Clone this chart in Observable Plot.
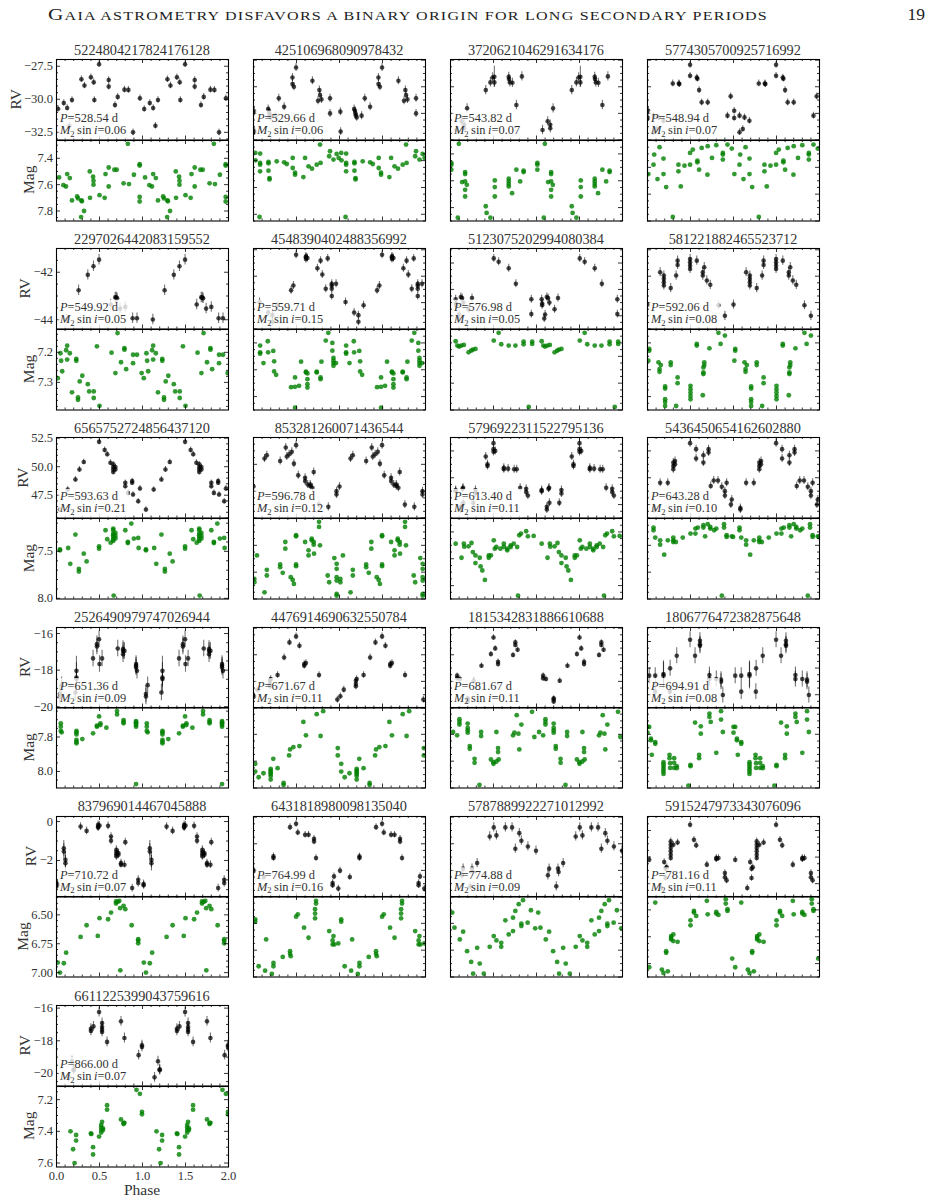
<!DOCTYPE html>
<html><head><meta charset="utf-8">
<script src="https://cdn.jsdelivr.net/npm/d3@7"></script>
<script src="https://cdn.jsdelivr.net/npm/@observablehq/plot@0.6"></script>
<style>
html,body{margin:0;padding:0;background:#fff;}
#page{position:relative;width:929px;height:1202px;overflow:hidden;font-family:"Liberation Serif","Times New Roman",serif;}
#page svg{position:absolute;overflow:visible;}
</style></head><body><div id="page"></div>
<script>
// ---------------- data ----------------
const ids = ["5224804217824176128","425106968090978432","3720621046291634176","5774305700925716992",
 "2297026442083159552","4548390402488356992","5123075202994080384","581221882465523712",
 "6565752724856437120","853281260071436544","5796922311522795136","5436450654162602880",
 "2526490979747026944","4476914690632550784","1815342831886610688","1806776472382875648",
 "837969014467045888","6431818980098135040","5787889922271012992","5915247973343076096",
 "6611225399043759616"];
const periods = [528.54,529.66,543.82,548.94,549.92,559.71,576.98,592.06,593.63,596.78,613.40,643.28,651.36,671.67,681.67,694.91,710.72,764.99,774.88,781.16,866.00];
const msini = [0.06,0.06,0.07,0.07,0.05,0.15,0.05,0.08,0.21,0.12,0.11,0.10,0.09,0.11,0.11,0.08,0.07,0.16,0.09,0.11,0.07];
const rvDomains = [[-33.08,-26.99],[12,18.05],[-20,-13.95],[40,46.05],[-44.39,-41.0],[-8,-1.9],[25,31.1],[-2,4.1],
 [45.5,52.56],[18,24.0],[-35,-29.0],[55,61.0],[-20.07,-15.67],[-62,-55.95],[30,36.05],[-15,-8.95],
 [-3.88,0.26],[-40,-33.95],[8,14.05],[-25,-18.95],[-20.77,-15.84]];
const magDomains = [[7.265,7.876],[7.25,7.85],[7.3,7.9],[7.0,7.6],[7.124,7.392],[7.1,7.7],[6.6,7.2],[7.3,7.9],
 [7.15,8.007],[7.4,8.0],[6.9,7.5],[7.2,7.8],[7.629,8.096],[7.6,8.2],[7.0,7.6],[6.8,7.4],
 [6.341,7.038],[7.4,8.0],[6.0,6.6],[7.5,8.1],[7.117,7.625]];
const rvSteps = [2.5,2,2,2,2,2,2,2,2.5,2,2,2,2,2,2,2,2,2,2,2,2];
const rvDecimals = [1,0,0,0,0,0,0,0,1,0,0,0,0,0,0,0,0,0,0,0,0];
const magSteps = [0.2,0.2,0.2,0.2,0.1,0.2,0.2,0.2,0.5,0.2,0.2,0.2,0.2,0.2,0.2,0.2,0.25,0.2,0.2,0.2,0.2];
const magDecimals = [1,1,1,1,1,1,1,1,1,1,1,1,1,1,1,1,2,1,1,1,1];
const rvErr = [0.25,0.3,0.35,0.25,0.22,0.3,0.3,0.35,0.25,0.3,0.3,0.3,0.45,0.25,0.2,0.6,0.2,0.25,0.35,0.25,0.3];
const phaseTicks = [0.0,0.5,1.0,1.5,2.0];

// [phase, RV, (error)] ; [phase, mag]  -- phases in one cycle, plotted twice
const rv1 = [[0.02,-30.73],[0.085,-30.28],[0.124,-30.66],[0.15,-32.0],[0.18,-30.05],[0.29,-28.48],[0.325,-28.96],[0.40,-28.33],[0.433,-28.71],[0.44,-30.05],[0.495,-27.35],[0.607,-28.54],[0.607,-29.04],[0.68,-30.43],[0.712,-29.82],[0.79,-29.27],[0.836,-29.29],[0.89,-32.5],[0.97,-29.92]];
const mag1 = [[0.03,7.545],[0.08,7.604],[0.11,7.614],[0.124,7.52],[0.155,7.55],[0.18,7.72],[0.24,7.69],[0.25,7.705],[0.286,7.846],[0.29,7.72],[0.295,7.726],[0.32,7.80],[0.387,7.50],[0.39,7.70],[0.425,7.54],[0.43,7.57],[0.43,7.60],[0.50,7.68],[0.56,7.70],[0.57,7.52],[0.607,7.47],[0.607,7.614],[0.673,7.487],[0.70,7.487],[0.78,7.59],[0.83,7.29],[0.843,7.596],[0.90,7.525],[0.967,7.445],[0.967,7.455],[0.967,7.693],[0.967,7.728]];
const rv2 = [[0.01,14.13],[0.013,12.63],[0.17,14.33],[0.18,14.2],[0.185,14.0],[0.19,13.85],[0.2,13.7],[0.257,13.83],[0.294,15.13],[0.356,14.5],[0.453,16.7],[0.453,16.2],[0.47,16.0],[0.495,17.45],[0.685,16.45],[0.75,14.95],[0.766,15.75],[0.774,15.38],[0.79,15.05],[0.89,15.13],[0.89,14.0]];
const mag2 = [[0.02,7.3425],[0.023,7.3975],[0.077,7.3475],[0.077,7.4175],[0.077,7.43],[0.077,7.48],[0.174,7.41],[0.174,7.42],[0.174,7.475],[0.186,7.53],[0.186,7.54],[0.27,7.405],[0.356,7.4125],[0.387,7.425],[0.456,7.38],[0.456,7.455],[0.483,7.49],[0.483,7.505],[0.58,7.5225],[0.6,7.38],[0.64,7.4425],[0.68,7.46],[0.735,7.43],[0.774,7.28],[0.78,7.4175],[0.88,7.3675],[0.89,7.33],[0.93,7.3925],[0.967,7.35],[0.99,7.38],[0.07,7.82]];
const rv3 = [[0.07,-19.25],[0.13,-18.6],[0.16,-18.85],[0.16,-19.12],[0.193,-17.62],[0.41,-16.25],[0.464,-15.67],[0.49,-15.3],[0.51,-15.25,0.8],[0.51,-15.67],[0.677,-15.25],[0.68,-15.42],[0.69,-15.67],[0.72,-15.7],[0.766,-17.37],[0.83,-15.22]];
const mag3 = [[0.01,7.4675],[0.01,7.48],[0.01,7.5175],[0.097,7.325],[0.135,7.61],[0.17,7.535],[0.17,7.55],[0.17,7.605],[0.17,7.6675],[0.17,7.7175],[0.19,7.63],[0.085,7.875],[0.41,7.79],[0.42,7.84],[0.464,7.875],[0.515,7.5975],[0.515,7.6475],[0.515,7.7175],[0.677,7.585],[0.677,7.605],[0.677,7.625],[0.677,7.6425],[0.716,7.6925],[0.766,7.5175],[0.81,7.605],[0.85,7.525],[0.85,7.535]];
const rv4 = [[0.008,42.2],[0.008,41.65],[0.07,41.83],[0.07,40.58],[0.108,40.83],[0.128,41.7],[0.185,41.45],[0.294,44.25],[0.364,44.25],[0.37,44.2],[0.495,44.83],[0.495,45.65],[0.573,44.7],[0.58,44.6],[0.6,43.75],[0.63,42.83],[0.7,42.83],[0.93,41.83],[0.967,43.28]];
const mag4 = [[0.01,7.25],[0.07,7.18],[0.078,7.105],[0.116,7.2875],[0.14,7.05],[0.186,7.25],[0.186,7.135],[0.217,7.3475],[0.294,7.57],[0.36,7.18],[0.36,7.23],[0.387,7.3425],[0.43,7.1875],[0.495,7.0925],[0.495,7.18],[0.527,7.0675],[0.58,7.15],[0.58,7.1625],[0.6,7.2175],[0.63,7.055],[0.697,7.255],[0.7,7.0425],[0.75,7.13],[0.8,7.035],[0.876,7.0925],[0.876,7.105],[0.876,7.1425],[0.93,7.03],[0.98,7.06]];
const rv5 = [[0.12,-43.99],[0.257,-42.76],[0.364,-42.11],[0.43,-41.75],[0.495,-41.47],[0.63,-43.36],[0.683,-43.06],[0.695,-43.06],[0.705,-43.1],[0.74,-43.53],[0.8,-43.46],[0.885,-43.94],[0.936,-43.94]];
const mag5 = [[0.015,7.286],[0.046,7.203],[0.054,7.228],[0.066,7.263],[0.112,7.193],[0.124,7.178],[0.124,7.224],[0.155,7.203],[0.18,7.333],[0.23,7.222],[0.23,7.228],[0.25,7.35],[0.25,7.358],[0.27,7.297],[0.30,7.278],[0.364,7.306],[0.38,7.33],[0.433,7.33],[0.433,7.352],[0.47,7.18],[0.5,7.378],[0.64,7.201],[0.685,7.269],[0.71,7.136],[0.75,7.233],[0.79,7.186],[0.79,7.191],[0.81,7.256],[0.89,7.208],[0.89,7.236],[0.936,7.208],[0.99,7.269]];
const rv6 = [[0.07,-5.95],[0.17,-6.75],[0.22,-6.95],[0.22,-7.45],[0.28,-6.2],[0.437,-5.07],[0.464,-4.7],[0.495,-2.37],[0.61,-2.5],[0.61,-2.57],[0.61,-2.7],[0.627,-2.62],[0.743,-3.4],[0.78,-2.82],[0.8,-3.87],[0.84,-4.95],[0.863,-2.65],[0.91,-4.95],[0.91,-4.7],[0.91,-4.57],[0.91,-5.5],[0.96,-4.57]];
const mag6 = [[0.077,7.22],[0.077,7.27],[0.077,7.28],[0.116,7.35],[0.166,7.1875],[0.17,7.27],[0.23,7.26],[0.24,7.3375],[0.24,7.4125],[0.263,7.4375],[0.437,7.53],[0.483,7.4575],[0.483,7.5275],[0.483,7.6825],[0.53,7.52],[0.553,7.34],[0.61,7.42],[0.61,7.415],[0.627,7.4275],[0.627,7.47],[0.627,7.5075],[0.627,7.5325],[0.735,7.415],[0.735,7.42],[0.78,7.4575],[0.78,7.47],[0.79,7.34],[0.84,7.1825],[0.87,7.125],[0.917,7.2],[0.917,7.2575],[0.93,7.3125],[0.93,7.3325],[0.93,7.35],[0.93,7.37],[0.96,7.35]];
const rv7 = [[0.06,27.25],[0.066,26.93],[0.066,26.8],[0.09,25.8],[0.1,26.1],[0.12,27.43],[0.135,27.35],[0.15,27.0],[0.21,26.5],[0.25,27.35],[0.503,30.35],[0.56,30.1],[0.677,29.6],[0.76,28.43],[0.94,27.25],[0.94,26.13]];
const mag7 = [[0.06,6.6875],[0.08,6.72],[0.1,6.7275],[0.125,6.72],[0.155,6.715],[0.21,6.77],[0.24,6.7575],[0.26,6.75],[0.29,6.745],[0.503,6.6825],[0.56,6.625],[0.59,6.71],[0.677,6.72],[0.755,6.72],[0.85,6.69],[0.85,6.71],[0.91,7.1775],[0.95,6.69],[0.95,6.7075]];
const rv8 = [[0.0,-0.15],[0.147,2.3],[0.19,2.05],[0.19,1.8],[0.19,1.55],[0.19,1.3],[0.27,1.1],[0.333,2.05],[0.35,2.85],[0.35,3.18],[0.495,3.3],[0.495,3.05],[0.495,2.8],[0.495,2.55],[0.573,3.18],[0.643,2.3],[0.643,2.05],[0.66,2.68],[0.69,1.68],[0.73,1.35],[0.825,-0.2],[0.9,-1.0]];
const mag8 = [[0.01,7.5325],[0.02,7.445],[0.02,7.4575],[0.128,7.545],[0.14,7.595],[0.14,7.615],[0.155,7.565],[0.205,7.725],[0.205,7.74],[0.205,7.82],[0.205,7.84],[0.205,7.87],[0.27,7.545],[0.27,7.565],[0.333,7.87],[0.35,7.6575],[0.35,7.7],[0.5,7.72],[0.5,7.745],[0.5,7.77],[0.5,7.795],[0.5,7.82],[0.573,7.4075],[0.573,7.42],[0.643,7.79],[0.65,7.5825],[0.65,7.62],[0.65,7.6325],[0.66,7.545],[0.66,7.565],[0.72,7.44],[0.825,7.325],[0.85,7.4075],[0.9,7.345]];
const rv9 = [[0.04,46.24],[0.13,48.0],[0.22,48.88],[0.267,49.76],[0.317,50.41],[0.495,52.18],[0.56,51.47],[0.59,51.09],[0.627,50.35],[0.66,50.21],[0.66,49.97],[0.66,49.76],[0.66,49.53],[0.685,49.97],[0.685,49.76],[0.8,48.59],[0.8,48.29],[0.83,47.7],[0.88,48.74],[0.88,48.59],[0.89,47.56],[0.95,46.97],[0.97,48.09]];
const mag9 = [[0.04,7.479],[0.04,7.489],[0.136,7.464],[0.16,7.632],[0.22,7.321],[0.26,7.686],[0.26,7.714],[0.317,7.525],[0.35,7.607],[0.495,7.446],[0.495,7.471],[0.57,7.275],[0.59,7.371],[0.63,7.407],[0.66,7.257],[0.66,7.275],[0.66,7.311],[0.66,7.329],[0.66,7.346],[0.66,7.371],[0.66,7.389],[0.685,7.304],[0.685,7.336],[0.685,7.364],[0.665,7.971],[0.8,7.275],[0.83,7.4],[0.83,7.411],[0.87,7.204],[0.9,7.364],[0.95,7.357],[0.955,7.464]];
const rv10 = [[0.0,20.35],[0.128,22.43],[0.155,22.68],[0.31,22.25],[0.375,23.25],[0.387,22.58],[0.414,22.75],[0.445,22.93],[0.47,22.05],[0.495,23.43],[0.52,21.18],[0.6,21.0],[0.6,20.75],[0.63,20.5],[0.66,20.5],[0.66,20.38],[0.685,20.25],[0.7,21.43],[0.76,19.0],[0.87,18.83],[0.965,19.75],[0.965,20.0]];
const mag10 = [[0.01,7.85],[0.01,7.875],[0.04,7.675],[0.128,7.95],[0.155,7.7825],[0.155,7.825],[0.31,7.7425],[0.31,7.7625],[0.34,7.805],[0.37,7.575],[0.37,7.625],[0.433,7.8375],[0.456,7.8575],[0.47,7.8875],[0.495,7.525],[0.495,7.5325],[0.495,7.7425],[0.495,7.755],[0.6,7.575],[0.64,7.6375],[0.64,7.675],[0.677,7.55],[0.677,7.5625],[0.7,7.575],[0.7,7.595],[0.704,7.6625],[0.762,7.425],[0.762,7.4625],[0.773,7.6],[0.863,7.825],[0.88,7.875],[0.94,7.695],[0.967,7.7375],[0.967,7.775],[0.967,7.8375],[0.967,7.8625],[0.967,7.9625],[0.967,7.975]];
const rv11 = [[0.06,-32.92],[0.06,-33.0],[0.12,-34.37],[0.12,-34.17],[0.14,-32.82],[0.147,-32.75],[0.15,-33.87],[0.265,-33.87],[0.29,-32.92],[0.29,-33.17],[0.41,-30.42],[0.43,-31.0],[0.43,-31.12],[0.5,-29.42],[0.5,-29.87],[0.5,-30.07],[0.52,-30.0],[0.62,-31.25],[0.62,-31.37],[0.67,-31.32],[0.74,-31.37],[0.77,-31.37],[0.81,-32.75],[0.88,-32.82],[0.88,-33.07],[0.9,-33.32]];
const mag11 = [[0.06,7.0875],[0.128,7.1925],[0.155,7.0875],[0.16,7.11],[0.21,7.1075],[0.244,7.0825],[0.26,7.15],[0.29,7.175],[0.29,7.2325],[0.34,7.1925],[0.35,7.2575],[0.37,7.2875],[0.4,7.3575],[0.445,7.175],[0.445,7.1925],[0.47,7.175],[0.503,7.0625],[0.515,7.125],[0.533,7.1125],[0.58,7.125],[0.62,7.0875],[0.62,7.1125],[0.66,7.125],[0.66,7.1375],[0.7,7.1],[0.7,7.1125],[0.735,7.0875],[0.775,7.1125],[0.8,7.025],[0.82,7.0125],[0.88,6.995],[0.9,7.0325],[0.967,7.03],[0.785,7.475]];
const rv12 = [[0.08,55.75],[0.08,55.63],[0.147,57.63],[0.236,57.63],[0.3,59.13],[0.3,58.88],[0.3,58.63],[0.32,59.25],[0.32,59.0],[0.495,60.58],[0.565,60.13],[0.565,59.43],[0.65,59.68],[0.65,59.13],[0.71,60.13],[0.71,59.88],[0.735,57.38],[0.77,57.8],[0.82,57.8],[0.864,57.33],[0.9,57.0],[0.9,56.68],[0.92,57.63],[0.97,56.0],[0.98,56.38]];
const mag12 = [[0.07,7.2675],[0.07,7.2875],[0.09,7.3425],[0.147,7.3625],[0.147,7.395],[0.194,7.47],[0.236,7.3625],[0.3,7.3425],[0.3,7.3625],[0.3,7.375],[0.33,7.375],[0.41,7.3425],[0.5,7.3125],[0.557,7.3125],[0.557,7.275],[0.585,7.2675],[0.65,7.25],[0.65,7.2675],[0.67,7.3325],[0.7,7.2425],[0.73,7.2625],[0.73,7.275],[0.775,7.2875],[0.8,7.275],[0.864,7.775],[0.89,7.2425],[0.89,7.2675],[0.92,7.325],[0.92,7.3375],[0.98,7.3325],[0.995,7.3375]];
const rv13 = [[0.04,-19.31],[0.04,-19.44],[0.06,-18.82],[0.22,-19.22],[0.232,-18.04,0.8],[0.232,-18.4,0.8],[0.232,-18.49],[0.425,-17.36],[0.47,-16.58],[0.47,-16.71],[0.495,-16.31],[0.5,-17.67],[0.53,-17.36],[0.712,-16.82],[0.774,-16.85],[0.774,-16.95],[0.774,-17.13],[0.79,-16.95],[0.925,-17.67],[0.925,-17.76],[0.925,-17.85],[0.936,-18.04]];
const mag13 = [[0.05,7.721],[0.05,7.74],[0.05,7.765],[0.06,7.773],[0.232,7.765],[0.232,7.773],[0.232,7.785],[0.232,7.817],[0.232,7.827],[0.232,7.837],[0.3,7.812],[0.425,7.779],[0.47,7.735],[0.47,7.74],[0.495,7.681],[0.51,7.721],[0.51,7.731],[0.58,7.746],[0.704,7.65],[0.704,7.669],[0.78,7.702],[0.78,7.712],[0.78,7.721],[0.925,7.708],[0.925,7.715],[0.925,7.721],[0.925,7.731],[0.925,7.74],[0.925,8.073]];
const rv14 = [[0.01,-61.12],[0.05,-60.62],[0.19,-59.95],[0.19,-60.2],[0.19,-60.37],[0.2,-59.82],[0.28,-59.52],[0.356,-58.2],[0.418,-57.07],[0.495,-56.62],[0.534,-57.32],[0.59,-58.7],[0.59,-58.82],[0.61,-58.62],[0.762,-59.52],[0.975,-61.37]];
const mag14 = [[0.02,8.02],[0.02,8.0775],[0.06,8.12],[0.116,8.09],[0.2,8.0575],[0.2,8.07],[0.2,8.0825],[0.2,8.095],[0.2,8.11],[0.2,8.1375],[0.23,7.9825],[0.28,8.0525],[0.35,8.1625],[0.35,8.1775],[0.414,7.9575],[0.425,7.9125],[0.464,7.895],[0.534,7.8875],[0.58,7.7075],[0.61,7.8075],[0.735,7.65],[0.78,7.8125],[0.81,7.6275],[0.98,7.9025],[0.98,7.9575]];
const rv15 = [[0.077,32.43],[0.077,32.23],[0.11,32.18],[0.2,30.73],[0.2,30.63],[0.2,30.48],[0.27,32.05],[0.36,33.18],[0.47,34.05],[0.5,35.3],[0.52,34.48],[0.553,33.48],[0.553,33.3],[0.727,33.98],[0.754,34.93],[0.754,34.73],[0.78,34.38]];
const mag15 = [[0.03,7.1825],[0.077,7.2075],[0.104,7.0875],[0.104,7.1075],[0.104,7.1275],[0.2,7.12],[0.2,7.1525],[0.2,7.17],[0.2,7.1875],[0.224,7.2875],[0.224,7.3075],[0.28,7.3825],[0.28,7.4125],[0.337,7.5775],[0.356,7.1825],[0.356,7.2125],[0.47,7.3875],[0.5,7.4075],[0.5,7.42],[0.534,7.1825],[0.553,7.3025],[0.553,7.3325],[0.534,7.4025],[0.56,7.3875],[0.727,7.2075],[0.743,7.1875],[0.77,7.0575],[0.79,7.195],[0.8,7.3125],[0.824,7.1275],[0.948,7.0325],[0.975,7.22]];
const rv16 = [[0.02,-12.57],[0.09,-12.57],[0.09,-13.77],[0.186,-12.45,1.0],[0.186,-12.57,1.0],[0.26,-13.77],[0.263,-12.02],[0.34,-11.07],[0.495,-9.87],[0.553,-11.07],[0.61,-9.95],[0.61,-10.2],[0.61,-10.32],[0.72,-12.52],[0.72,-12.82],[0.8,-12.82],[0.855,-12.87],[0.855,-13.02],[0.876,-14.02]];
const mag16 = [[0.0,6.945],[0.0,6.9875],[0.02,6.945],[0.04,7.0325],[0.04,7.045],[0.05,7.1525],[0.09,7.0575],[0.09,7.07],[0.186,7.2075],[0.186,7.225],[0.186,7.2425],[0.186,7.26],[0.186,7.2775],[0.186,7.295],[0.256,7.1525],[0.256,7.1775],[0.263,7.215],[0.263,7.25],[0.31,7.1775],[0.31,7.2125],[0.31,7.25],[0.34,7.2375],[0.34,7.2525],[0.476,7.3825],[0.5,7.2275],[0.5,7.2375],[0.553,6.9125],[0.6,7.1525],[0.6,7.1775],[0.62,6.94],[0.62,6.995],[0.72,6.845],[0.72,6.87],[0.735,6.9075],[0.8,7.1375],[0.855,6.8275],[0.855,6.89],[0.876,6.9825]];
const rv17 = [[0.013,-3.21],[0.013,-3.28],[0.085,-1.37,0.4],[0.085,-1.54,0.4],[0.104,-1.97,0.4],[0.104,-2.14,0.4],[0.28,-0.26],[0.35,-0.48],[0.484,-0.17],[0.484,-0.26],[0.484,-0.31],[0.5,-0.2],[0.6,-0.22],[0.634,-0.77],[0.634,-0.99],[0.696,-1.45],[0.696,-1.57],[0.696,-1.68],[0.696,-1.79],[0.72,-1.62],[0.72,-1.71],[0.75,-2.14],[0.75,-2.22],[0.79,-2.22],[0.8,-1.06],[0.88,-3.42],[0.95,-2.99],[0.95,-3.16]];
const mag17 = [[0.015,6.913],[0.04,7.0],[0.085,6.919],[0.112,6.827],[0.28,6.691],[0.35,6.59],[0.48,6.682],[0.5,6.529],[0.6,6.538],[0.634,6.48],[0.692,6.384],[0.692,6.402],[0.712,6.387],[0.73,6.379],[0.74,6.442],[0.742,6.98],[0.78,6.422],[0.8,6.451],[0.874,6.59],[0.95,6.711],[0.95,6.725],[0.95,6.746]];
const rv18 = [[0.006,-38.02],[0.12,-38.5],[0.232,-36.95],[0.232,-37.07],[0.425,-34.75],[0.495,-34.5],[0.515,-35.15],[0.6,-35.32],[0.64,-35.32],[0.704,-35.62],[0.704,-35.82],[0.727,-37.07],[0.92,-38.95],[0.92,-39.12],[0.936,-38.45],[0.986,-39.37]];
const mag18 = [[0.02,7.57],[0.02,7.5875],[0.06,7.92],[0.135,7.9525],[0.147,7.72],[0.213,7.9775],[0.232,7.895],[0.232,7.92],[0.34,7.85],[0.425,7.8075],[0.425,7.8275],[0.433,7.845],[0.495,7.55],[0.515,7.5325],[0.588,7.6325],[0.64,7.7075],[0.716,7.495],[0.716,7.5275],[0.716,7.5625],[0.727,7.4325],[0.727,7.4525],[0.88,7.6575],[0.92,7.7275],[0.92,7.7575],[0.93,7.695],[0.94,7.7575],[0.986,7.75]];
const rv19 = [[0.133,9.63],[0.147,10.13],[0.23,8.8],[0.25,10.13],[0.257,9.88],[0.31,10.55],[0.456,12.55],[0.503,13.23],[0.534,12.63],[0.638,13.23],[0.716,13.23],[0.754,11.63],[0.8,12.8],[0.824,12.23],[0.9,11.8],[0.994,11.48]];
const mag19 = [[0.02,6.12],[0.046,6.2325],[0.108,6.32],[0.147,6.2625],[0.193,6.4075],[0.24,6.4875],[0.263,6.575],[0.31,6.3825],[0.34,6.5],[0.387,6.575],[0.456,6.375],[0.503,6.295],[0.534,6.3275],[0.59,6.345],[0.59,6.375],[0.638,6.1775],[0.677,6.2825],[0.727,6.1575],[0.727,6.2575],[0.754,6.1075],[0.793,6.0575],[0.824,6.22],[0.824,6.2025],[0.843,6.0275],[0.897,6.195],[0.935,6.1025],[0.985,6.2375]];
const rv20 = [[0.02,-22.2],[0.16,-24.32],[0.194,-22.37],[0.21,-22.87],[0.21,-23.57],[0.224,-22.77],[0.27,-20.82],[0.27,-21.07],[0.27,-21.32],[0.27,-21.57],[0.27,-21.82],[0.27,-22.07],[0.3,-21.07],[0.35,-20.9],[0.495,-19.57],[0.54,-20.7],[0.566,-21.12],[0.69,-22.57],[0.8,-22.07],[0.8,-22.15],[0.825,-22.07],[0.9,-23.2],[0.9,-23.52],[0.92,-23.75]];
const mag20 = [[0.02,8.0275],[0.09,7.545],[0.167,8.045],[0.186,8.07],[0.217,7.9075],[0.217,7.92],[0.236,8.0575],[0.275,7.82],[0.275,7.8075],[0.275,7.795],[0.3,7.7825],[0.3,7.8325],[0.35,7.8375],[0.5,7.6775],[0.5,7.715],[0.54,7.6075],[0.54,7.62],[0.566,7.645],[0.69,7.5325],[0.7,7.6325],[0.8,7.615],[0.8,7.6275],[0.825,7.6375],[0.91,7.52],[0.91,7.5525],[0.93,7.595],[0.93,7.6075],[0.985,7.9625]];
const rv21 = [[0.14,-20.24],[0.18,-19.25],[0.2,-19.74],[0.2,-19.8],[0.40,-17.4],[0.40,-17.26],[0.43,-17.12],[0.495,-16.24],[0.53,-16.91],[0.53,-17.16],[0.53,-17.32],[0.53,-17.46],[0.588,-18.07],[0.75,-16.81],[0.79,-17.83],[0.955,-18.88],[0.994,-18.27],[0.994,-18.38]];
const mag21 = [[0.163,7.4],[0.193,7.513],[0.21,7.6],[0.228,7.423],[0.228,7.458],[0.40,7.413],[0.405,7.417],[0.425,7.5],[0.425,7.546],[0.495,7.433],[0.52,7.408],[0.52,7.392],[0.52,7.375],[0.52,7.36],[0.53,7.34],[0.54,7.381],[0.54,7.392],[0.588,7.235],[0.588,7.263],[0.75,7.325],[0.78,7.346],[0.78,7.354],[0.79,7.346],[0.93,7.138],[0.97,7.163],[0.994,7.277],[0.994,7.292]];

const rvSets = [rv1,rv2,rv3,rv4,rv5,rv6,rv7,rv8,rv9,rv10,rv11,rv12,rv13,rv14,rv15,rv16,rv17,rv18,rv19,rv20,rv21];
const magSets = [mag1,mag2,mag3,mag4,mag5,mag6,mag7,mag8,mag9,mag10,mag11,mag12,mag13,mag14,mag15,mag16,mag17,mag18,mag19,mag20,mag21];
const headerText = "Gaia astrometry disfavors a binary origin for long secondary periods";

// ---------------- layout ----------------
const FONT = '"Liberation Serif", "Times New Roman", serif';
const COLS = [56, 253, 450, 647], PW = 172, TOP0 = 59, RSTEP = 189.2, H1 = 80.5, H2 = 80.5;
const page = document.getElementById("page");

function tickVals(dom, step) {
  const lo = Math.min(...dom), hi = Math.max(...dom), out = [];
  for (let k = Math.ceil(lo / step - 1e-7); k <= Math.floor(hi / step + 1e-7); k++) out.push(+(k * step).toFixed(6));
  return out;
}
function minorStep(step) {
  const e = Math.pow(10, Math.floor(Math.log10(step) + 1e-9));
  const m = +(step / e).toFixed(6);
  return step / ([1, 2.5, 5, 10].includes(m) ? 5 : 4);
}

function panel(i, kind, x0, y0, h, showY, showX) {
  const isRV = kind === "rv";
  const raw = isRV ? rvSets[i] : magSets[i];
  const dom = isRV ? rvDomains[i] : magDomains[i];
  const step = isRV ? rvSteps[i] : magSteps[i];
  const dec = isRV ? rvDecimals[i] : magDecimals[i];
  const pts = raw.flatMap(d => [0, 1].map(s => ({p: d[0] + s, v: d[1], e: d.length > 2 ? d[2] : rvErr[i]})));
  const yMaj = tickVals(dom, step);
  const yMin = tickVals(dom, minorStep(step)).filter(t => !yMaj.some(m => Math.abs(m - t) < 1e-6));
  const xMaj = phaseTicks;
  const xMin = tickVals([0, 2], 0.1).filter(t => !xMaj.some(m => Math.abs(m - t) < 1e-6));
  const MJ = 4, MN = 2;
  const tk = {stroke: "#000", strokeWidth: 0.8};
  const marks = [];
  if (isRV) marks.push(Plot.ruleX(pts, {x: "p", y1: d => d.v - d.e, y2: d => d.v + d.e, stroke: "#000", strokeOpacity: 0.55, strokeWidth: 1.1, clip: true}));
  marks.push(Plot.dot(pts, {x: "p", y: "v", r: isRV ? 2.3 : 2.4, fill: isRV ? "#000" : "#008000", fillOpacity: isRV ? 0.72 : 0.8, clip: true}));
  marks.push(
    Plot.tickY(yMaj, {y: d => d, insetRight: PW - MJ, ...tk}),
    Plot.tickY(yMaj, {y: d => d, insetLeft: PW - MJ, ...tk}),
    Plot.tickY(yMin, {y: d => d, insetRight: PW - MN, ...tk}),
    Plot.tickY(yMin, {y: d => d, insetLeft: PW - MN, ...tk}),
    Plot.tickX(xMaj, {x: d => d, insetBottom: h - MJ, ...tk}),
    Plot.tickX(xMaj, {x: d => d, insetTop: h - MJ, ...tk}),
    Plot.tickX(xMin, {x: d => d, insetBottom: h - MN, ...tk}),
    Plot.tickX(xMin, {x: d => d, insetTop: h - MN, ...tk}),
    Plot.frame({stroke: "#000", strokeWidth: 1.1})
  );
  if (showY) marks.push(Plot.axisY({ticks: yMaj, anchor: "left", tickSize: 0, tickPadding: 3.5, tickFormat: d3.format(`.${dec}f`), label: null, fontSize: 12.5, fill: "#333"}));
  if (showX) marks.push(Plot.axisX({ticks: xMaj, anchor: "bottom", tickSize: 0, tickPadding: 4, tickFormat: d3.format(".1f"), label: null, fontSize: 12.5, fill: "#333"}));
  const svg = Plot.plot({
    width: PW, height: h, margin: 0,
    x: {domain: [0, 2], axis: null},
    y: {domain: dom, reverse: !isRV, axis: null},
    style: {overflow: "visible", fontFamily: FONT, fontSize: "12.5px", background: "transparent", color: "#000"},
    marks
  });
  svg.style.position = "absolute";
  svg.style.left = x0 + "px";
  svg.style.top = y0 + "px";
  svg.style.maxWidth = "none";
  page.appendChild(svg);
  return svg;
}

const labelInfo = [];
for (let i = 0; i < ids.length; i++) {
  const r = Math.floor(i / 4), c = i % 4;
  const x0 = COLS[c], y0 = TOP0 + r * RSTEP;
  const s1 = panel(i, "rv", x0, y0, H1, c === 0, false);
  const s2 = panel(i, "mag", x0, y0 + H1, H2, c === 0, i === ids.length - 1);
  if (c === 0) labelInfo.push({r, y0, s1, s2});
}

// ---------------- overlay texts ----------------
const pageRect = page.getBoundingClientRect();
const ov = d3.select(page).append("svg")
  .attr("width", 929).attr("height", 1202)
  .style("left", "0px").style("top", "0px").style("pointer-events", "none")
  .attr("font-family", FONT).attr("fill", "#222");

// running head in small capitals
const hdr = ov.append("text").attr("x", 48).attr("y", 19.5).attr("fill", "#222")
  .attr("textLength", 720).attr("lengthAdjust", "spacingAndGlyphs").style("letter-spacing", "1px");
hdr.append("tspan").attr("font-size", 17.5).text(headerText[0]);
hdr.append("tspan").attr("font-size", 13.2).text(headerText.slice(1).toUpperCase());
ov.append("text").attr("x", 925).attr("y", 19.5).attr("font-size", 17.5).attr("text-anchor", "end").text("19");

for (let i = 0; i < ids.length; i++) {
  const r = Math.floor(i / 4), c = i % 4;
  const x0 = COLS[c], y0 = TOP0 + r * RSTEP;
  ov.append("text").attr("x", x0 + PW / 2).attr("y", y0 - 4.5).attr("font-size", 14.3)
    .attr("text-anchor", "middle").attr("fill", "#333").text(ids[i]);
  const g = ov.append("g");
  const rect = g.append("rect").attr("x", x0 + 2.5).attr("y", y0 + 51.5).attr("height", 28.3)
    .attr("fill", "white").attr("fill-opacity", 0.8);
  const t1 = g.append("text").attr("x", x0 + 4).attr("y", y0 + 63).attr("font-size", 12.4).attr("fill", "#333");
  t1.append("tspan").attr("font-style", "italic").text("P");
  t1.append("tspan").text("=" + periods[i].toFixed(2) + " d");
  const t2 = g.append("text").attr("x", x0 + 4).attr("y", y0 + 75).attr("font-size", 12.4).attr("fill", "#333");
  t2.append("tspan").attr("font-style", "italic").text("M");
  t2.append("tspan").attr("font-size", 8.6).attr("dy", 2.6).text("2");
  t2.append("tspan").attr("dy", -2.6).text("\u2009sin\u2009");
  t2.append("tspan").attr("font-style", "italic").text("i");
  t2.append("tspan").text("=" + msini[i].toFixed(2));
  const w = Math.max(t1.node().getComputedTextLength(), t2.node().getComputedTextLength());
  rect.attr("width", w + 4);
}

for (const L of labelInfo) {
  const pairs = [[L.s1, "RV", L.y0 + H1 / 2], [L.s2, "Mag", L.y0 + H1 + H2 / 2]];
  for (const [svg, txt, cy] of pairs) {
    const lab = svg.querySelector('[aria-label="y-axis tick label"]');
    let left = 20;
    if (lab) left = lab.getBoundingClientRect().left - pageRect.left;
    const cx = left - 9;
    ov.append("text").attr("transform", `translate(${cx},${cy}) rotate(-90)`)
      .attr("text-anchor", "middle").attr("dy", "0.35em").attr("font-size", 15.5).attr("fill", "#333").text(txt);
  }
}
ov.append("text").attr("x", COLS[0] + PW / 2).attr("y", 1195).attr("text-anchor", "middle")
  .attr("font-size", 15.5).attr("fill", "#333").text("Phase");
</script></body></html>
